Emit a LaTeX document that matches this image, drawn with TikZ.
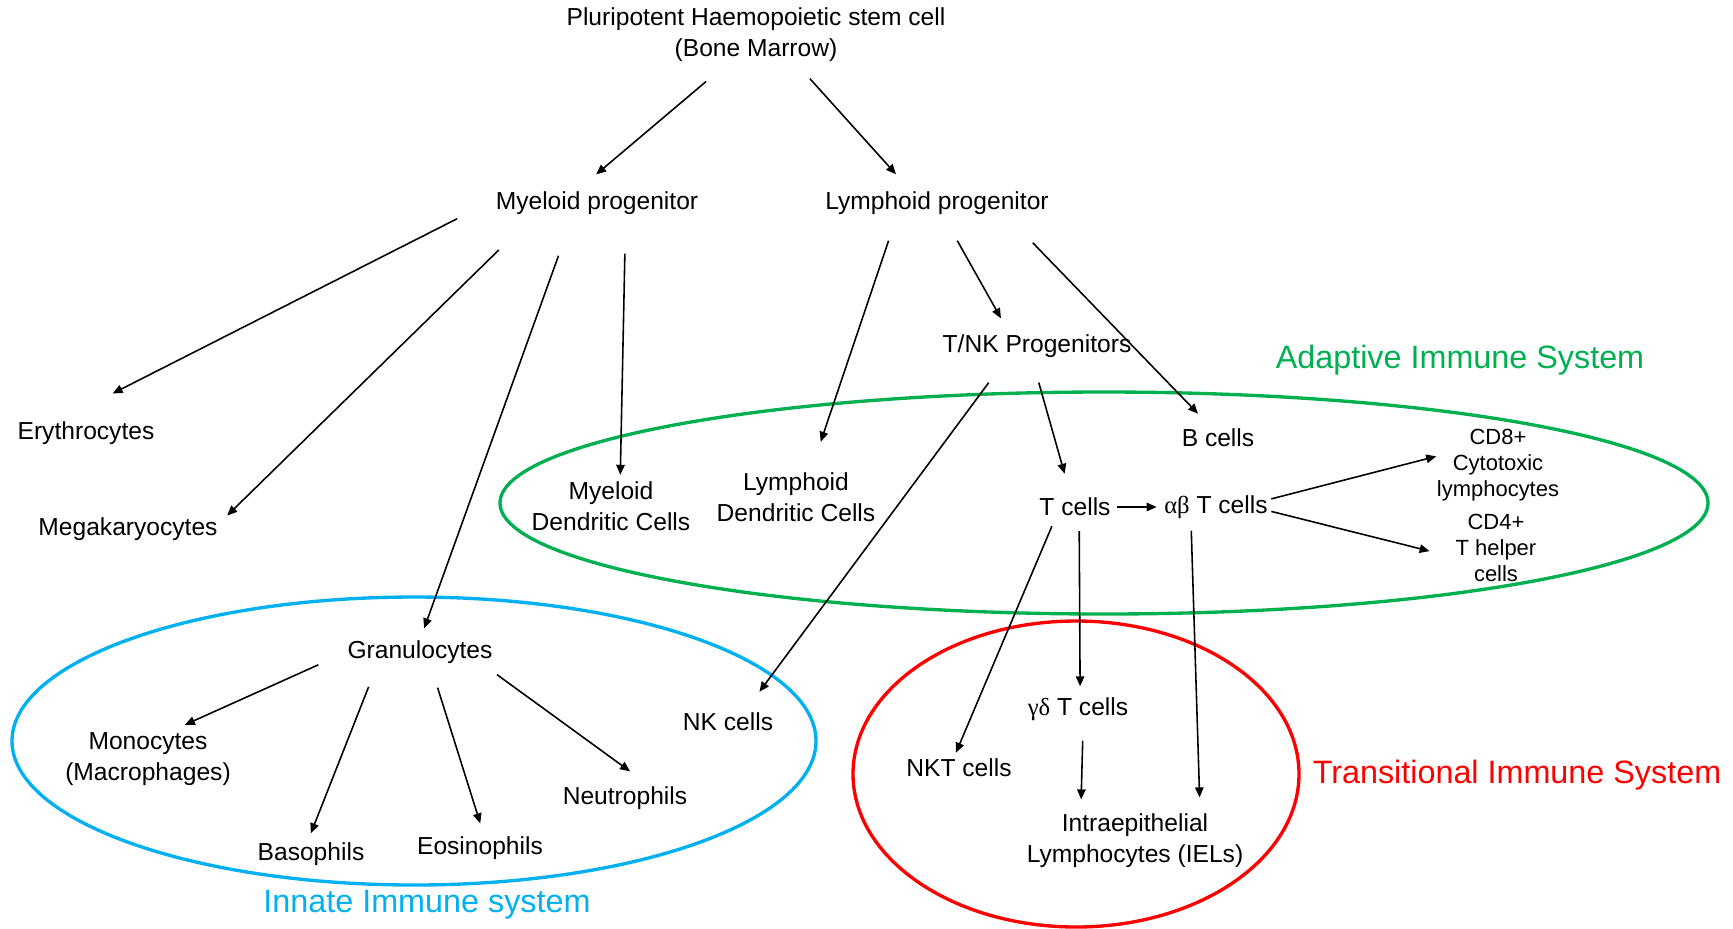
\documentclass[tikz,border=0pt]{standalone}
\usepackage{fontspec}
\setmainfont{Liberation Sans}
\newfontfamily\grk{Liberation Serif}
\usetikzlibrary{arrows.meta}
\definecolor{adaptgreen}{HTML}{00B050}
\definecolor{innateblue}{HTML}{00B0F0}
\definecolor{transred}{HTML}{FF0000}
\tikzset{
  cell/.style={inner sep=0pt, align=center, font=\fontsize{7}{8.8}\selectfont},
  cdtext/.style={inner sep=0pt, align=center, font=\fontsize{6.25}{7.5}\selectfont},
  system/.style={inner sep=0pt, font=\fontsize{9.2}{11}\selectfont},
  ring/.style={line width=0.95pt},
  every edge/.style={draw, line width=0.45pt, -{Triangle[length=1mm,width=0.85mm]}}
}

\begin{document}
\begin{tikzpicture}[x=0.1mm,y=-0.1mm]
\useasboundingbox (0,0) rectangle (1733,928);

% the three systems
\draw[ring,adaptgreen] (1104,503) ellipse [x radius=60.4mm, y radius=11.1mm];
\draw[ring,innateblue] (414,741) ellipse [x radius=40.2mm, y radius=14.4mm];
\draw[ring,transred] (1076,774) ellipse [x radius=22.3mm, y radius=15.3mm];
\draw (1460,360) node[system,adaptgreen] (adaptive) {Adaptive Immune System};
\draw (1517,775) node[system,transred] (transitional) {Transitional Immune System};
\draw (427,905) node[system,innateblue] (innate) {Innate Immune system};

% stem cell and progenitors
\draw (756,35) node[cell] (pluri) {Pluripotent Haemopoietic stem cell\\(Bone Marrow)};
\draw (597,203) node[cell] (myelo) {Myeloid progenitor};
\draw (937,203) node[cell] (lympho) {Lymphoid progenitor};
\draw (1037,346) node[cell] (tnk) {T/NK Progenitors};

% myeloid line
\draw (86,433) node[cell] (ery) {Erythrocytes};
\draw (128,529) node[cell] (mega) {Megakaryocytes};
\draw (611,506) node[cell] (mdc) {Myeloid\\Dendritic Cells};
\draw (420,652) node[cell] (gran) {Granulocytes};
\draw (148,759) node[cell] (mono) {Monocytes\\(Macrophages)};
\draw (311,854) node[cell] (baso) {Basophils};
\draw (480,848) node[cell] (eosi) {Eosinophils};
\draw (625,798) node[cell] (neutro) {Neutrophils};

% lymphoid line
\draw (796,497) node[cell] (ldc) {Lymphoid\\Dendritic Cells};
\draw (1218,438) node[cell] (bcell) {B cells};
\draw (728,722) node[cell] (nk) {NK cells};
\draw (1075,507) node[cell] (tcell) {T cells};
\draw (1216,507) node[cell] (abt) {{\grk αβ} T cells};
\draw (1498,465) node[cdtext] (cd8) {CD8+\\Cytotoxic\\lymphocytes};
\draw (1496,548) node[cdtext] (cd4) {CD4+\\T helper\\cells};
\draw (1078,709) node[cell] (gdt) {{\grk γδ} T cells};
\draw (959,768) node[cell] (nkt) {NKT cells};
\draw (1135,841) node[cell] (iel) {Intraepithelial\\Lymphocytes (IELs)};

\path (pluri.225) edge[shorten <=2.92mm, shorten >=2.54mm] (myelo.149);
\path (pluri.325) edge[shorten <=2.16mm, shorten >=2.23mm] (lympho.155);

\path (myelo.178) edge[shorten <=4.27mm, shorten >=6.05mm] (ery.156);
\path (myelo.191) edge[shorten <=4.97mm, shorten >=1.25mm] (mega.3);
\path (myelo.207) edge[shorten <=4.31mm, shorten >=1.22mm] (gran.north);
\path (myelo.337) edge[shorten <=3.85mm, shorten >=0.6mm] (mdc.70);

\path (gran.west) edge[shorten <=3.12mm, shorten >=1.71mm] (mono.52);
\path (gran.196) edge[shorten <=2.43mm, shorten >=0.92mm] (baso.106);
\path (gran.310) edge[shorten <=2.46mm, shorten >=1.31mm] (eosi.71);
\path (gran.349) edge[shorten <=1.78mm, shorten >=2.46mm] (neutro.26);

\path (lympho.197) edge[shorten <=2.7mm, shorten >=3.17mm] (ldc.60);
\path (lympho.296) edge[shorten <=2.93mm, shorten >=1.78mm] (tnk.156);
\path (lympho.350) edge[shorten <=3.84mm, shorten >=2.03mm] (bcell.121);

\path (tnk.202) edge[shorten <=3.05mm, shorten >=2.55mm] (nk.31);
\path (tnk.247) edge[shorten <=2.54mm, shorten >=2.44mm] (tcell.111);

\path (tcell.east) edge[shorten <=0.55mm, shorten >=0.7mm] (abt.west);
\path (abt.8) edge[shorten <=0.3mm] (cd8.172);
\path (abt.356) edge[shorten <=0.31mm, shorten >=2.62mm] (cd4.193);

\path (tcell.207) edge[shorten <=1.03mm, shorten >=0.6mm] (nkt.119);
\path (tcell.293) edge[shorten <=1.45mm, shorten >=1.05mm] (gdt.80);
\path (abt.206) edge[shorten <=1.15mm, shorten >=1.6mm] (iel.23);
\path (gdt.293) edge[shorten <=1.95mm, shorten >=1.4mm] (iel.153);
\end{tikzpicture}
\end{document}
